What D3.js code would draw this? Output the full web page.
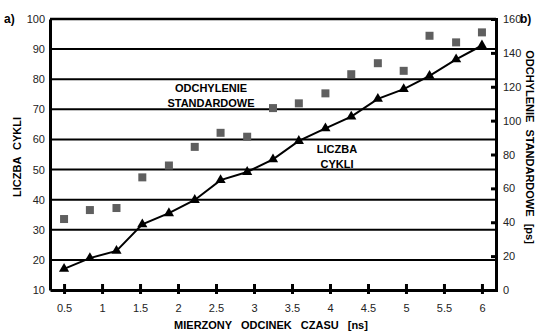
<!DOCTYPE html>
<html>
<head>
<meta charset="utf-8">
<script src="https://cdn.jsdelivr.net/npm/d3@7"></script>
<style>
  body { margin: 0; background: #fff; }
  svg { display: block; }
  text { font-family: Arial, "Liberation Sans", sans-serif; }
</style>
</head>
<body>
<div id="chart"></div>
<script>
// measured interval lengths [ns]
const intervals = [0.5, 0.84, 1.19, 1.53, 1.88, 2.22, 2.56, 2.91, 3.25, 3.59, 3.94, 4.28, 4.63, 4.97, 5.31, 5.66, 6.0];
// number of cycles (left axis)
const cycles = [17, 20.6, 23, 31.8, 35.5, 39.9, 46.5, 49.2, 53.4, 59.5, 63.7, 67.6, 73.5, 76.7, 81.1, 86.6, 91.2];
// standard deviation [ps] (right axis)
const stdDev = [41.9, 47.2, 48.4, 66.5, 73.5, 84.5, 92.8, 90.5, 107.4, 110.2, 116.1, 127.4, 133.9, 129.4, 150.1, 146.2, 152.1];

const xTicks = [0.5, 1, 1.5, 2, 2.5, 3, 3.5, 4, 4.5, 5, 5.5, 6];
const leftTicks = [10, 20, 30, 40, 50, 60, 70, 80, 90, 100];
const rightTicks = [0, 20, 40, 60, 80, 100, 120, 140, 160];

const width = 544, height = 336;
const m = { left: 50, right: 496, top: 19, bottom: 290 };

const svg = d3.select("#chart").append("svg")
  .attr("width", width)
  .attr("height", height);

const x = d3.scaleLinear().domain([0.315, 6.185]).range([m.left, m.right]);
const yL = d3.scaleLinear().domain([10, 100]).range([m.bottom, m.top]);
const yR = d3.scaleLinear().domain([0, 160]).range([m.bottom, m.top]);

// gridlines from left axis
svg.append("g")
  .selectAll("line")
  .data(leftTicks.filter(d => d > 10))
  .join("line")
  .attr("x1", m.left).attr("x2", m.right)
  .attr("y1", d => yL(d)).attr("y2", d => yL(d))
  .attr("stroke", "#000")
  .attr("stroke-width", d => d === 100 ? 2.5 : 2);

// left axis
const gL = svg.append("g")
  .attr("transform", `translate(${m.left},0)`)
  .call(d3.axisLeft(yL).tickValues(leftTicks).tickSize(0).tickPadding(5));
gL.select(".domain").attr("stroke", "#000").attr("stroke-width", 3);
gL.selectAll("text").attr("font-size", 11).attr("fill", "#222")
  .attr("font-family", "Arial, 'Liberation Sans', sans-serif");

// right axis
const gR = svg.append("g")
  .attr("transform", `translate(${m.right},0)`)
  .call(d3.axisRight(yR).tickValues(rightTicks).tickSize(0).tickPadding(7));
gR.select(".domain").attr("stroke", "#000").attr("stroke-width", 3);
gR.selectAll("text").attr("font-size", 11).attr("fill", "#222")
  .attr("font-family", "Arial, 'Liberation Sans', sans-serif");
gR.selectAll(".tick").append("line")
  .attr("x1", -5).attr("x2", 2)
  .attr("stroke", "#000").attr("stroke-width", 3);

// bottom axis
const gB = svg.append("g")
  .attr("transform", `translate(0,${m.bottom})`)
  .call(d3.axisBottom(x).tickValues(xTicks).tickSize(0).tickPadding(14)
    .tickFormat(d3.format("")));
gB.select(".domain").attr("stroke", "#000").attr("stroke-width", 3);
gB.selectAll("text").attr("font-size", 11).attr("fill", "#222")
  .attr("font-family", "Arial, 'Liberation Sans', sans-serif");
gB.selectAll(".tick").append("line")
  .attr("y1", -6).attr("y2", 4)
  .attr("stroke", "#000").attr("stroke-width", 3);

// std deviation squares
svg.append("g")
  .selectAll("rect")
  .data(d3.zip(intervals, stdDev))
  .join("rect")
  .attr("x", d => x(d[0]) - 4)
  .attr("y", d => yR(d[1]) - 4)
  .attr("width", 8).attr("height", 8)
  .attr("fill", "#5f5f5f");

// cycle count line
svg.append("path")
  .datum(d3.zip(intervals, cycles))
  .attr("fill", "none")
  .attr("stroke", "#000")
  .attr("stroke-width", 2)
  .attr("d", d3.line().x(d => x(d[0])).y(d => yL(d[1])));

svg.append("g")
  .selectAll("path")
  .data(d3.zip(intervals, cycles))
  .join("path")
  .attr("transform", d => `translate(${x(d[0])},${yL(d[1])})`)
  .attr("d", d3.symbol(d3.symbolTriangle, 45))
  .attr("fill", "#000");

// in-plot labels
const inLabel = (lines, cx, y0) => {
  svg.append("text")
    .attr("text-anchor", "middle")
    .attr("font-size", 11)
    .attr("font-weight", "bold")
    .selectAll("tspan")
    .data(lines)
    .join("tspan")
    .attr("x", cx)
    .attr("y", (d, i) => y0 + i * 15)
    .text(d => d);
};
inLabel(["ODCHYLENIE", "STANDARDOWE"], 211, 92);
inLabel(["LICZBA", "CYKLI"], 337, 153);

// axis titles
svg.append("text")
  .attr("transform", `translate(21,157) rotate(-90)`)
  .attr("text-anchor", "middle")
  .attr("font-size", 11).attr("font-weight", "bold")
  .attr("word-spacing", 4)
  .text("LICZBA CYKLI");

svg.append("text")
  .attr("transform", `translate(526,147) rotate(90)`)
  .attr("text-anchor", "middle")
  .attr("font-size", 11).attr("font-weight", "bold")
  .attr("word-spacing", 4)
  .text("ODCHYLENIE STANDARDOWE [ps]");

svg.append("text")
  .attr("x", 271).attr("y", 329)
  .attr("text-anchor", "middle")
  .attr("font-size", 11).attr("font-weight", "bold")
  .attr("word-spacing", 6)
  .text("MIERZONY ODCINEK CZASU [ns]");

// panel letters
svg.append("text")
  .attr("x", 4).attr("y", 23)
  .attr("font-family", "'Liberation Serif', 'DejaVu Serif', serif")
  .attr("font-size", 12).attr("font-weight", "bold")
  .text("a)");
svg.append("text")
  .attr("x", 520).attr("y", 23)
  .attr("font-family", "'Liberation Serif', 'DejaVu Serif', serif")
  .attr("font-size", 12).attr("font-weight", "bold")
  .text("b)");
</script>
</body>
</html>
